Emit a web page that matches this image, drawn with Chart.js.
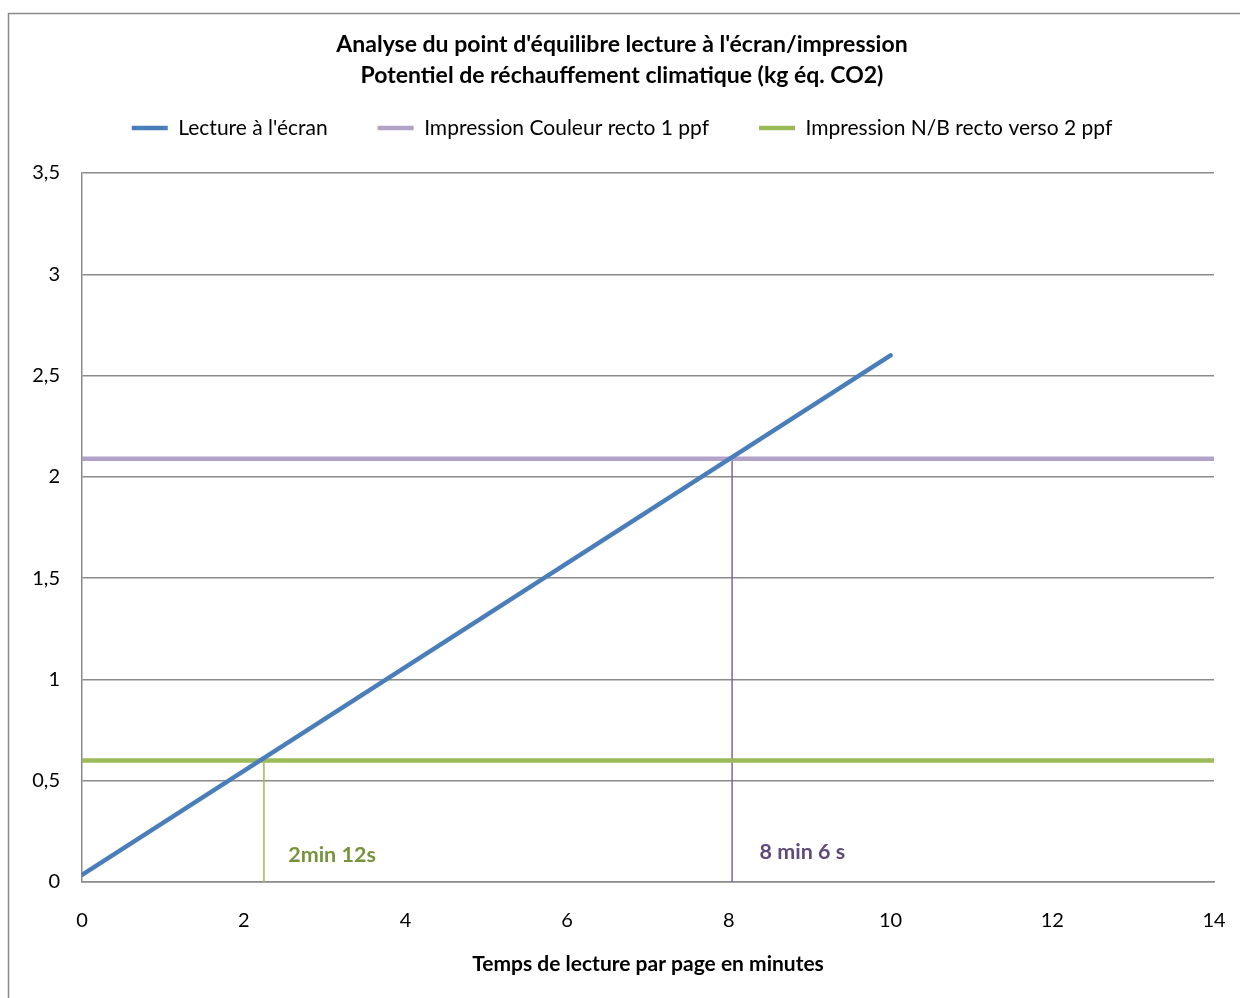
<!DOCTYPE html>
<html lang="fr">
<head>
<meta charset="utf-8">
<title>Point d'équilibre lecture à l'écran / impression</title>
<script src="https://cdn.jsdelivr.net/npm/chart.js@4.4.1/dist/chart.umd.min.js"></script>
<style>
    html, body { margin: 0; padding: 0; background: #fff; }
    #wrap { width: 1240px; height: 998px; }
</style>
</head>
<body>
<div id="wrap"><canvas id="chart" width="1240" height="998"></canvas></div>
<script>
// ---- data ----
const screenX = [0, 10];
const screenY = [0.035, 2.6];
const colorX = [0, 14];
const colorY = [2.09, 2.09];
const bwX = [0, 14];
const bwY = [0.6, 0.6];
// break-even drop lines (x, from 0 up to the print level)
const dropBwX = [2.25, 2.25];
const dropBwY = [0, 0.6];
const dropColorX = [8.04, 8.04];
const dropColorY = [0, 2.09];

const seriesNames = ['Lecture à l\'écran', 'Impression Couleur recto 1 ppf', 'Impression N/B recto verso 2 ppf'];
const xTicks = [0, 2, 4, 6, 8, 10, 12, 14];
const yTicks = [0, 0.5, 1, 1.5, 2, 2.5, 3, 3.5];

const noteTexts = ['2min 12s', '8 min 6 s'];
const noteX = [2.55, 8.38];
const noteY = [0.135, 0.15];

const FONT = 'Lato, "Open Sans", sans-serif';

const toPoints = (xs, ys) => xs.map((x, i) => ({ x: x, y: ys[i] }));

// outer frame like the spreadsheet chart object
const framePlugin = {
    id: 'frame',
    beforeDraw(chart) {
        const ctx = chart.ctx;
        ctx.save();
        ctx.fillStyle = '#fff';
        ctx.fillRect(0, 0, chart.width, chart.height);
        ctx.strokeStyle = '#8a8a8a';
        ctx.lineWidth = 1.5;
        ctx.strokeRect(8.5, 13.5, 1400, 1200);
        ctx.restore();
    }
};

// text labels next to the drop lines
const notesPlugin = {
    id: 'notes',
    afterDatasetsDraw(chart) {
        const ctx = chart.ctx;
        const xs = chart.scales.x;
        const ys = chart.scales.y;
        const colors = ['#77933c', '#604a7b'];
        ctx.save();
        ctx.font = 'bold 21.5px ' + FONT;
        ctx.textAlign = 'left';
        ctx.textBaseline = 'middle';
        noteTexts.forEach((t, i) => {
            ctx.fillStyle = colors[i];
            ctx.fillText(t, xs.getPixelForValue(noteX[i]), ys.getPixelForValue(noteY[i]));
        });
        ctx.restore();
    }
};

// extra room between legend and plot area
const legendGapPlugin = {
    id: 'legendGap',
    afterInit(chart) {
        const lg = chart.legend;
        if (!lg) return;
        const fit = lg.fit;
        lg.fit = function () {
            fit.call(this);
            this.height += 24.5;
        };
    }
};

const ctx = document.getElementById('chart');
new Chart(ctx, {
    type: 'line',
    data: {
        datasets: [
            {
                label: seriesNames[0],
                data: toPoints(screenX, screenY),
                borderColor: '#4a7ebb',
                backgroundColor: '#4a7ebb',
                borderWidth: 4.5,
                borderCapStyle: 'round',
                pointRadius: 0
            },
            {
                label: seriesNames[1],
                data: toPoints(colorX, colorY),
                borderColor: '#b3a2c7',
                backgroundColor: '#b3a2c7',
                borderWidth: 4.5,
                pointRadius: 0
            },
            {
                label: seriesNames[2],
                data: toPoints(bwX, bwY),
                borderColor: '#9bbb59',
                backgroundColor: '#9bbb59',
                borderWidth: 4.5,
                pointRadius: 0
            },
            {
                label: 'drop-bw',
                data: toPoints(dropBwX, dropBwY),
                borderColor: '#9bbb59',
                borderWidth: 1.5,
                pointRadius: 0
            },
            {
                label: 'drop-color',
                data: toPoints(dropColorX, dropColorY),
                borderColor: '#8064a2',
                borderWidth: 1.5,
                pointRadius: 0
            }
        ]
    },
    options: {
        responsive: false,
        animation: false,
        devicePixelRatio: 1,
        layout: { padding: { left: 30, right: 26, top: 0, bottom: 0 } },
        plugins: {
            title: {
                display: true,
                text: ['Analyse du point d\'équilibre lecture à l\'écran/impression',
                       'Potentiel de réchauffement climatique (kg éq. CO2)'],
                color: '#000',
                font: { family: FONT, size: 23, weight: 'bold', lineHeight: 1.348 },
                padding: { top: 29.5, bottom: -24 }
            },
            legend: {
                position: 'top',
                labels: {
                    color: '#000',
                    font: { family: FONT, size: 21 },
                    usePointStyle: true,
                    pointStyle: 'line',
                    pointStyleWidth: 36,
                    padding: 50,
                    filter: (item) => item.datasetIndex < 3
                }
            },
            tooltip: { enabled: false }
        },
        scales: {
            x: {
                type: 'linear',
                min: 0,
                max: 14,
                afterBuildTicks: (scale) => { scale.ticks = xTicks.map(v => ({ value: v })); },
                afterFit: (scale) => {
                    scale.height = 116;
                    scale.paddingLeft = 0;
                    scale.paddingRight = 0;
                },
                grid: { display: false },
                border: { display: true, color: '#8a8a8a', width: 1.5 },
                ticks: {
                    color: '#000',
                    padding: 19,
                    font: { family: FONT, size: 20 }
                },
                title: {
                    display: true,
                    text: 'Temps de lecture par page en minutes',
                    color: '#000',
                    font: { family: FONT, size: 21, weight: 'bold' },
                    padding: { top: 0, bottom: 21 }
                }
            },
            y: {
                min: 0,
                max: 3.5,
                afterBuildTicks: (scale) => { scale.ticks = yTicks.map(v => ({ value: v })); },
                afterFit: (scale) => { scale.width = 52; },
                grid: { color: '#8a8a8a', lineWidth: 1.5, drawTicks: false },
                border: { display: true, color: '#8a8a8a', width: 1.5 },
                ticks: {
                    color: '#000',
                    padding: 22,
                    font: { family: FONT, size: 20 },
                    callback: (v) => String(v).replace('.', ',')
                }
            }
        }
    },
    plugins: [framePlugin, notesPlugin, legendGapPlugin]
});
</script>
</body>
</html>
